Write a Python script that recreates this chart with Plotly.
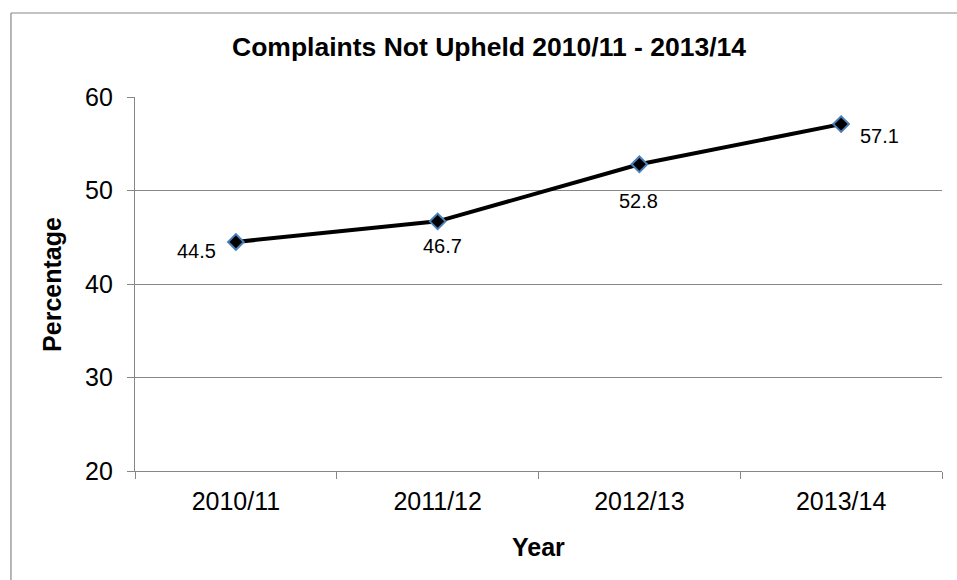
import plotly.graph_objects as go

# Share of complaints not upheld, by reporting year
years = ["2010/11", "2011/12", "2012/13", "2013/14"]
not_upheld_pct = [44.5, 46.7, 52.8, 57.1]
# Data-label offsets (pixels) relative to each marker
label_dx = [-39, 5, -1, 38]
label_dy = [-9, -25, -37, -12]

FONT = "Arial, Liberation Sans, sans-serif"
GRID = "#878787"

fig = go.Figure()
fig.add_trace(go.Scatter(
    x=years,
    y=not_upheld_pct,
    mode="lines+markers",
    line=dict(color="black", width=4),
    marker=dict(symbol="diamond", size=12, color="black",
                line=dict(color="#4A7EBB", width=2)),
    showlegend=False,
    hoverinfo="x+y",
))

for yr, v, dx, dy in zip(years, not_upheld_pct, label_dx, label_dy):
    fig.add_annotation(
        x=yr, y=v, xref="x", yref="y", text=f"{v}",
        showarrow=False, xshift=dx, yshift=dy,
        font=dict(family=FONT, size=20, color="black"),
    )

# Axis titles
fig.add_annotation(
    x=-0.103, y=0.5, xref="paper", yref="paper", text="<b>Percentage</b>",
    textangle=-90, showarrow=False, xanchor="center", yanchor="middle",
    font=dict(family=FONT, size=25, color="black"),
)
fig.add_annotation(
    x=0.5, y=-0.203, xref="paper", yref="paper", text="<b>Year</b>",
    showarrow=False, xanchor="center", yanchor="middle",
    font=dict(family=FONT, size=25, color="black"),
)

# Chart-area border: only its left and top edges fall inside the page
border_left, border_top = -0.1537, 1.2246
fig.add_shape(type="line", xref="paper", yref="paper",
              x0=border_left, x1=border_left, y0=-0.3, y1=border_top,
              line=dict(color=GRID, width=1.2), layer="below")
fig.add_shape(type="line", xref="paper", yref="paper",
              x0=border_left, x1=1.1, y0=border_top, y1=border_top,
              line=dict(color=GRID, width=1.2), layer="below")

fig.update_layout(
    width=957, height=580,
    margin=dict(l=135, r=15, t=97, b=109),
    paper_bgcolor="white",
    plot_bgcolor="white",
    title=dict(
        text="<b>Complaints Not Upheld 2010/11 - 2013/14</b>",
        x=489 / 957, xanchor="center",
        y=1 - 47 / 580, yanchor="middle",
        font=dict(family=FONT, size=26.5, color="black"),
    ),
    font=dict(family=FONT, color="black"),
)

fig.update_xaxes(
    type="category",
    range=[-0.5, 3.5],
    tickson="boundaries",
    ticks="outside", ticklen=7, tickwidth=1.2, tickcolor=GRID,
    showline=True, linecolor=GRID, linewidth=1.2,
    showgrid=False, zeroline=False,
    tickfont=dict(family=FONT, size=25, color="black"),
    ticklabelstandoff=8,
)
fig.update_yaxes(
    range=[20, 60], dtick=10, tick0=20,
    ticks="outside", ticklen=7, tickwidth=1.2, tickcolor=GRID,
    showline=True, linecolor=GRID, linewidth=1.2,
    showgrid=True, gridcolor=GRID, gridwidth=1.2,
    zeroline=False,
    tickfont=dict(family=FONT, size=25, color="black"),
    ticklabelstandoff=9,
)

fig.write_html("out.html")
